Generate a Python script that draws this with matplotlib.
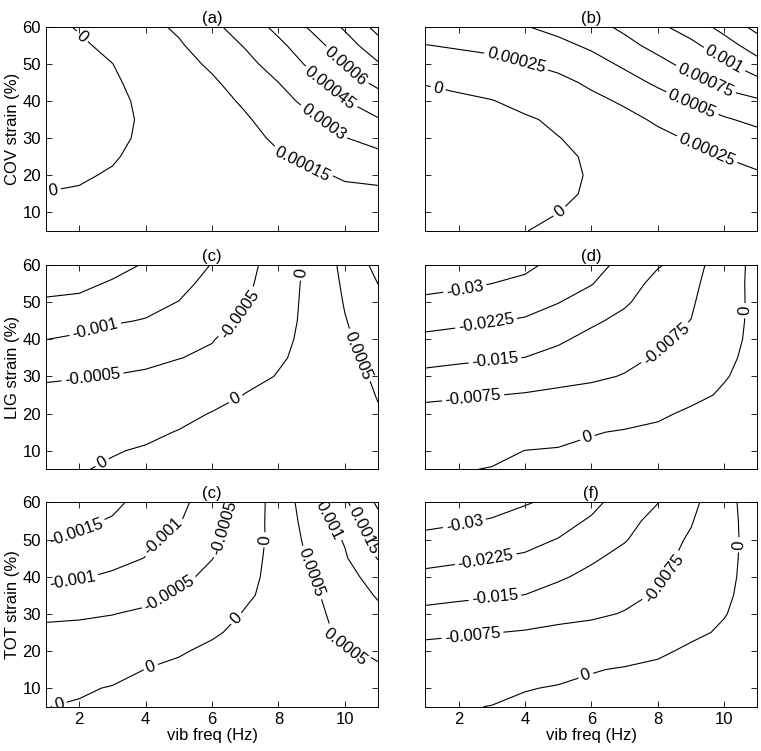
import numpy as np
import matplotlib
matplotlib.use('Agg')
import matplotlib.pyplot as plt

plt.rcParams['font.family'] = ['Liberation Sans', 'DejaVu Sans']
plt.rcParams['font.size'] = 12
plt.rcParams['contour.negative_linestyle'] = 'solid'

# grid of the response surfaces
freq = [1, 2, 3, 4, 5, 6, 7, 8, 9, 10, 11]                 # vib freq (Hz)
strain = [5, 10, 15, 20, 25, 30, 35, 40, 45, 50, 55, 60]    # strain (%)

# each list below is one freq column, values from strain 5 up to 60
# (a) COV, units of 1e-5
cov_a = [
    [5, 2.5, 0.2, -1.5, -2.5, -3.2, -3.6, -3.9, -4.1, -4.2, -4.2, -4.0],
    [6, 3.5, 1.0, -1.2, -2.3, -2.9, -3.1, -3.1, -2.9, -2.5, -1.9, 1.1],
    [8, 6, 3.5, 1.0, -1.0, -2.2, -2.4, -2.2, -1.5, -0.1, 3, 6.3],
    [9, 7.5, 6, 4.5, 3.2, 1.7, 1.2, 1.8, 3.5, 5.5, 8, 11],
    [11, 9.5, 8, 6.5, 5.5, 5, 5, 5.8, 7.5, 10, 13.5, 17.2],
    [12, 11, 9.5, 8.5, 8, 8, 8.5, 10, 13, 17.3, 22, 26.7],
    [11, 10.5, 10, 10, 10.5, 11.5, 13.5, 17, 21.5, 26, 31, 37.1],
    [10.5, 10.5, 11, 12, 13.8, 17, 21, 25, 30, 36, 42, 48.8],
    [10, 11, 12, 13.5, 18, 23, 28, 34.5, 41, 48, 54, 62.4],
    [10, 11, 13, 16, 22, 29.5, 37.5, 44.5, 53, 61, 68.5, 77.1],
    [8, 10.5, 12.5, 18, 26, 35.5, 44, 53.5, 63.3, 73.8, 84.2, 95],
]
# (b) COV, units of 1e-5
cov_b = [
    [-17, -18, -19, -19, -18, -16, -13, -8, 1.5, 12.5, 24.5, 38],
    [-15, -16, -16.5, -16.5, -15.5, -13.5, -10, -4.5, 5.5, 16, 27.5, 40],
    [-12, -13, -13.5, -13.5, -12.5, -10.5, -7, -0.8, 9.5, 19.5, 30, 43],
    [-0.5, -6, -9, -9.5, -9, -7, -2.5, 6, 14.5, 24.5, 36.5, 49],
    [5, -0.2, -3.5, -4.5, -3.5, -0.5, 3.5, 10, 19, 31, 44, 57],
    [8, 6, 2.3, 1.5, 2.3, 5, 11, 19.5, 29, 41, 54, 67],
    [12, 10, 9, 9, 10, 13, 19, 28, 41, 54, 68, 80],
    [16, 15, 14, 14, 16, 20, 28, 40, 54, 68, 82.5, 94.7],
    [19, 18, 17.5, 18, 20, 27, 39, 52, 67.5, 83, 94, 112],
    [21, 20, 20, 21, 25.2, 35, 47, 66, 81, 96, 115, 133],
    [19, 19, 20, 23, 30, 40, 57, 72, 92, 117, 137, 158],
]
# (c) LIG, units of 1e-5
lig_c = [
    [-7, -12, -19, -28, -40, -55, -79, -100.5, -122, -144, -166, -185],
    [-2, -6, -13, -23, -36, -52, -72, -93, -116, -140, -161, -180],
    [4, -2, -13, -23, -35, -48.5, -67, -85, -104, -122, -145, -166],
    [8, 3, -6.5, -16, -28, -43, -61, -81, -98, -112, -126, -146],
    [13, 9, 1.5, -9.5, -21, -35, -51, -69, -85, -99, -113, -128],
    [17, 14, 9, 1.5, -12.5, -26, -43, -52, -65, -75, -86, -98],
    [19, 16, 13, 8, 1, -9, -19, -31, -43, -54, -63, -72],
    [20, 17, 14, 10, 6, 1.5, -3, -6, -8.5, -11, -14, -17],
    [23, 21, 19, 16, 13, 10, 8, 7, 6.5, 7, 7.5, 7],
    [27, 27, 27, 28, 30, 33, 40, 44, 48, 53, 58, 64],
    [41, 42, 44, 47, 52, 57, 63, 70, 78, 88, 100.5, 114],
]
# (d) LIG, units of 1e-4
lig_d = [
    [-22, -30, -42, -60, -85, -131, -173, -210, -248, -284, -324, -360],
    [-3, -16, -32, -52, -82, -124, -163, -200, -240, -276, -313, -350],
    [2, -12, -27, -48, -77, -115, -156, -190, -229, -265, -300, -340],
    [10, 0.5, -22, -44, -70, -110, -149, -182, -218, -253, -288, -312],
    [14, 4, -18, -38, -62, -95, -126, -162, -195, -227, -262, -284],
    [18, 10, -3, -30, -57, -84, -105, -128, -163, -196, -228, -255],
    [21, 14, 4, -22, -49, -72, -88, -104, -130, -160, -180, -201],
    [23, 17, 10, -8, -30, -50, -70, -86, -95, -110, -130, -155],
    [25, 20, 15, 8, -12, -29, -45, -60, -74, -85, -100, -124],
    [28, 24, 20, 15, 6, -3, -8, -11, -11, -10, -8, -7],
    [33, 31, 29, 26, 22, 17, 12, 9, 7, 6, 5, 4],
]
# (e) TOT, units of 1e-5
tot_e = [
    [-0.5, -13, -24, -34, -43, -56, -86, -109, -129, -150.5, -172, -193],
    [3, -4, -19, -30, -40, -55, -82, -104, -124, -142, -160, -180],
    [9, 2, -12, -23, -35, -51, -72, -93, -114, -130, -145, -163],
    [15, 8, 0.5, -11, -24, -43, -62, -80, -99, -109, -119, -129],
    [20, 13, 6, -3, -16, -28, -43, -60, -74, -88, -103, -112],
    [24, 18, 12, 6, -4, -18, -28, -40, -51, -60, -68, -75],
    [27, 23, 19, 14, 8, 2.9, -6, -14, -20, -24, -27, -30],
    [30, 27, 25, 22, 19, 16, 14, 17, 18, 16.5, 19, 20],
    [33, 32, 31, 30, 34, 37, 41, 48.5, 57, 65, 72, 80],
    [36, 38, 41, 47, 60, 67, 76, 84, 95, 104, 125, 143],
    [38, 42, 47, 54, 72, 90, 104, 120, 153, 170, 187, 208],
]
# (f) TOT, units of 1e-4
tot_f = [
    [-22, -30, -42, -60, -85, -131, -173, -209, -246, -280, -320, -355],
    [-3, -16, -32, -52, -82, -124, -163, -199, -237, -272, -308, -345],
    [1, -12, -27, -48, -77, -115, -156, -190, -226, -262, -294, -330],
    [12, -3, -22, -44, -70, -110, -149, -180, -214, -249, -276, -305],
    [14, 4, -18, -37, -61, -94, -124, -160, -192, -222, -258, -285],
    [18, 10, -3, -30, -57, -84, -105, -132, -160, -186, -214, -250],
    [21, 14, 4, -22, -49, -72, -88, -104, -128, -155, -165, -181],
    [23, 17, 10, -8, -30, -50, -70, -84, -95, -108, -135, -151],
    [25, 20, 15, 8, -9, -22, -34, -45, -56, -66, -80, -98],
    [28, 24, 20, 15, 6, -2, -7, -12, -13, -12, -11, -10],
    [33, 31, 29, 27, 23, 20, 18, 20, 18, 15, 15, 16],
]

levels_a = [0, 0.00015, 0.0003, 0.00045, 0.0006, 0.00075, 0.0009]
levels_b = [0, 0.00025, 0.0005, 0.00075, 0.001, 0.00125, 0.0015]
levels_c = [-0.0015, -0.001, -0.0005, 0, 0.0005, 0.001]
levels_d = [-0.03, -0.0225, -0.015, -0.0075, 0]
levels_e = [-0.0015, -0.001, -0.0005, 0, 0.0005, 0.001, 0.0015, 0.002]
levels_f = [-0.03, -0.0225, -0.015, -0.0075, 0]

titles = ['(a)', '(b)', '(c)', '(d)', '(c)', '(f)']
ylabels = ['COV strain (%)', 'LIG strain (%)', 'TOT strain (%)']

# where the inline labels sit
labels_a = [(2.13, 57.8), (1.24, 15.3), (8.76, 23.8), (9.36, 34.4), (9.58, 43.7), (10.04, 49.5)]
labels_b = [(1.39, 43.6), (5.05, 10.2), (3.75, 51.2), (9.47, 26.8), (9.04, 39.5), (9.45, 45.8), (9.94, 50.3)]
labels_c = [(2.51, 41.9), (2.41, 29.1), (6.75, 47.5), (2.76, 5.7), (6.73, 23.6), (8.71, 57.8), (10.27, 35.2)]
labels_d = [(2.19, 53.6), (2.83, 44.2), (3.1, 34.2), (2.44, 24.3), (8.31, 38.1), (5.9, 13.0), (10.62, 47.7)]
labels_e = [(1.92, 51.6), (1.8, 39.0), (4.59, 50.1), (4.74, 35.1), (6.37, 53.1), (1.4, 5.7), (4.17, 15.3),
            (6.75, 28.6), (7.6, 49.9), (8.98, 41.0), (10.0, 21.2), (9.53, 55.3), (10.62, 52.6)]
labels_f = [(2.19, 53.7), (2.83, 44.1), (3.1, 34.0), (2.42, 24.0), (8.26, 39.2), (5.85, 12.8), (10.37, 48.6)]

panels = [
    (cov_a, 1e-5, levels_a, labels_a),
    (cov_b, 1e-5, levels_b, labels_b),
    (lig_c, 1e-5, levels_c, labels_c),
    (lig_d, 1e-4, levels_d, labels_d),
    (tot_e, 1e-5, levels_e, labels_e),
    (tot_f, 1e-4, levels_f, labels_f),
]

fig = plt.figure(figsize=(7.61, 7.51), dpi=100)
col_left = [0.0604, 0.5589]
row_bottom = [0.6924, 0.3751, 0.0590]
w, h = 0.4365, 0.272

for i, (z, scale, levels, lab_pos) in enumerate(panels):
    r, c = divmod(i, 2)
    ax = fig.add_axes([col_left[c], row_bottom[r], w, h])
    Z = np.array(z, dtype=float).T * scale
    cs = ax.contour(freq, strain, Z, levels=levels, colors='k', linewidths=0.8,
                    linestyles='solid')
    ax.clabel(cs, fmt='%g', manual=lab_pos, inline=True, fontsize=12, inline_spacing=3)

    ax.set_xlim(1, 11)
    ax.set_ylim(5, 60)
    ax.set_xticks([2, 4, 6, 8, 10])
    ax.set_yticks([10, 20, 30, 40, 50, 60])
    ax.tick_params(direction='in', top=True, right=True, length=4, width=0.6, labelsize=12)
    for s in ax.spines.values():
        s.set_linewidth(0.7)
    ax.set_title(titles[i], fontsize=12, pad=3)

    if c == 0:
        ax.set_ylabel(ylabels[r], fontsize=12, labelpad=2)
    else:
        ax.set_yticklabels([])
    if r == 2:
        ax.set_xlabel('vib freq (Hz)', fontsize=12, labelpad=1)
    else:
        ax.set_xticklabels([])

fig.savefig('out.png', dpi=100)
